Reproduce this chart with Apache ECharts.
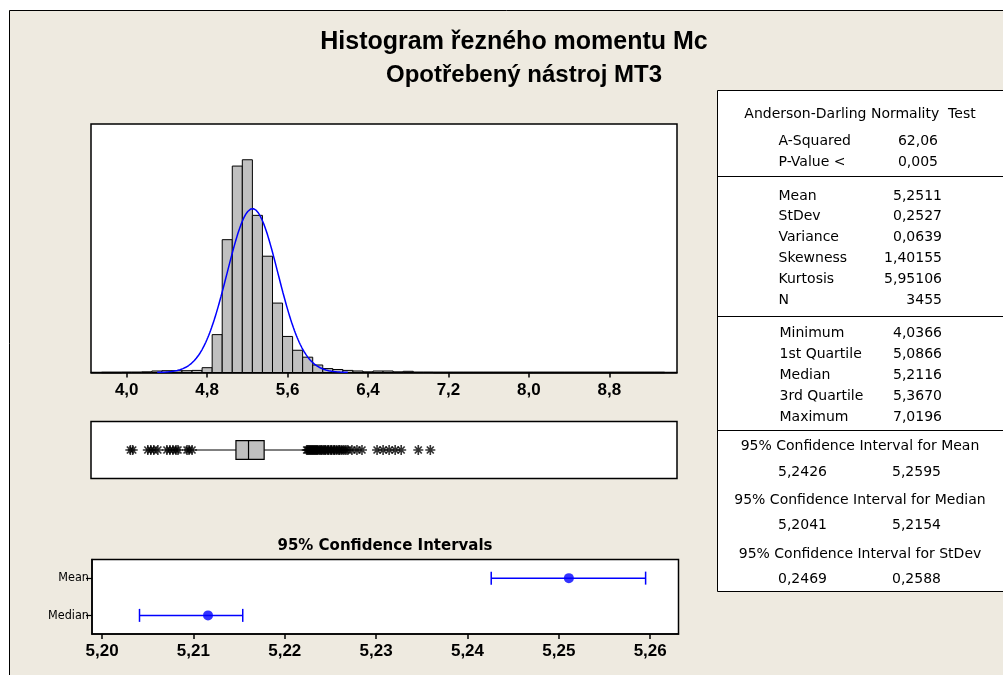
<!DOCTYPE html>
<html>
<head>
<meta charset="utf-8">
<script src="https://cdn.jsdelivr.net/npm/echarts@6/dist/echarts.min.js"></script>
<style>
  html, body { margin: 0; padding: 0; background: #fff; }
  #c { width: 1003px; height: 675px; }
</style>
</head>
<body>
<div id="c"></div>
<script>
// ---- Histogram of cutting torque Mc (bin width 0.1, bin midpoints) ----
const BIN_WIDTH = 0.1;
const binMids = [3.8, 3.9, 4.0, 4.1, 4.2, 4.3, 4.4, 4.5, 4.6, 4.7, 4.8, 4.9, 5.0, 5.1, 5.2, 5.3, 5.4, 5.5, 5.6, 5.7,
                 5.8, 5.9, 6.0, 6.1, 6.2, 6.3, 6.4, 6.5, 6.6, 6.7, 6.8, 6.9, 7.0, 7.1, 7.2, 7.3, 7.4, 7.5, 7.6, 7.7,
                 7.8, 7.9, 8.0, 8.1, 8.2, 8.3, 8.4, 8.5, 8.6, 8.7, 8.8, 8.9, 9.0, 9.1, 9.2, 9.3];
const binCounts = [0, 0, 1, 1, 2, 5, 6, 6, 6, 7, 16, 126, 442, 687, 708, 523, 387, 231, 120, 74,
                   51, 25, 13, 10, 7, 5, 2, 5, 5, 2, 4, 1, 1, 0, 0, 0, 0, 0, 0, 0,
                   0, 0, 0, 0, 0, 0, 0, 0, 0, 0, 0, 0, 0, 0, 0, 0];
const histTicks = [4.0, 4.8, 5.6, 6.4, 7.2, 8.0, 8.8];

// ---- Descriptive statistics ----
const N = 3455;
const MEAN = 5.2511;
const STDEV = 0.2527;
const VARIANCE = 0.0639;
const SKEWNESS = 1.40155;
const KURTOSIS = 5.95106;
const A_SQUARED = 62.06;
const MINIMUM = 4.0366;
const Q1 = 5.0866;
const MEDIAN = 5.2116;
const Q3 = 5.3670;
const MAXIMUM = 7.0196;
const meanCI = [5.2426, 5.2595];
const medianCI = [5.2041, 5.2154];
const stdevCI = [0.2469, 0.2588];

// ---- Boxplot: whisker ends and outliers ----
const whiskers = [4.68, 5.78];
const lowOutliers = [4.0366, 4.06, 4.21, 4.24, 4.27, 4.31, 4.40, 4.43, 4.46, 4.49, 4.51, 4.60, 4.62, 4.65];
const highOutliers = [5.79, 5.80, 5.81, 5.82, 5.83, 5.84, 5.85, 5.86, 5.87, 5.88, 5.89, 5.90, 5.915, 5.93,
                      5.94, 5.955, 5.97, 5.98, 6.00, 6.01, 6.03, 6.04, 6.06, 6.07, 6.09, 6.11, 6.12, 6.14,
                      6.16, 6.18, 6.20, 6.24, 6.29, 6.34, 6.49, 6.55, 6.61, 6.67, 6.73, 6.90, 7.0196];

// ---- Confidence interval panel ----
const ciCategories = ['Median', 'Mean'];
const ciTicks = [5.20, 5.21, 5.22, 5.23, 5.24, 5.25, 5.26];

const fmt = (v, d) => v.toFixed(d).replace('.', ',');

// fitted normal curve scaled to counts per bin
const normalCurve = [];
(function () {
  const lo = MEAN - 3.75 * STDEV, hi = MEAN + 3.75 * STDEV, steps = 200;
  for (let i = 0; i <= steps; i++) {
    const x = lo + (hi - lo) * i / steps;
    const z = (x - MEAN) / STDEV;
    const pdf = Math.exp(-0.5 * z * z) / (STDEV * Math.sqrt(2 * Math.PI));
    normalCurve.push([x, N * BIN_WIDTH * pdf]);
  }
})();

// asterisk marker for outliers
const STAR = 'path://M-0.8,-5L0.8,-5L0.8,5L-0.8,5Z M-5,-0.8L5,-0.8L5,0.8L-5,0.8Z ' +
  'M2.9,-4.1L4.1,-2.9L-2.9,4.1L-4.1,2.9Z M-4.1,-2.9L-2.9,-4.1L4.1,2.9L2.9,4.1Z';

const AXIS_FONT = '"Liberation Sans", Arial, sans-serif';
const TABLE_FONT = '"DejaVu Sans", Verdana, sans-serif';
const BLUE = '#0000FF';

const H_MIN = 3.645, H_MAX = 9.473;

// ---- statistics table (text + borders) ----
const T_LEFT = 717.5, LABEL_X = 778.5, VAL_R1 = 938, VAL_R = 942, PAIR_L = 778, PAIR_R = 892, T_CENTER = 860;
const tableGraphics = [];
function tText(text, x, y, align) {
  tableGraphics.push({
    type: 'text', x: x, y: y, z: 20,
    style: { text: text, font: '14px ' + TABLE_FONT, fill: '#000', align: align || 'left', verticalAlign: 'middle' }
  });
}
function tLine(y) {
  tableGraphics.push({ type: 'line', z: 20, shape: { x1: T_LEFT, y1: y, x2: 1010, y2: y }, style: { stroke: '#000', lineWidth: 1 } });
}
tableGraphics.push({ type: 'rect', z: 19, shape: { x: T_LEFT, y: 90.5, width: 400, height: 501 }, style: { fill: '#fff', stroke: '#000', lineWidth: 1 } });
tText('Anderson-Darling Normality  Test', T_CENTER, 114, 'center');
const sec1 = [['A-Squared', fmt(A_SQUARED, 2)], ['P-Value <', '0,005']];
sec1.forEach((r, i) => { tText(r[0], LABEL_X, 141.5 + i * 20.5); tText(r[1], VAL_R1, 141.5 + i * 20.5, 'right'); });
tLine(176.5);
const sec2 = [['Mean', fmt(MEAN, 4)], ['StDev', fmt(STDEV, 4)], ['Variance', fmt(VARIANCE, 4)],
              ['Skewness', fmt(SKEWNESS, 5)], ['Kurtosis', fmt(KURTOSIS, 5)], ['N', String(N)]];
sec2.forEach((r, i) => { tText(r[0], LABEL_X, 196 + i * 20.8); tText(r[1], VAL_R, 196 + i * 20.8, 'right'); });
tLine(316.5);
const sec3 = [['Minimum', fmt(MINIMUM, 4)], ['1st Quartile', fmt(Q1, 4)], ['Median', fmt(MEDIAN, 4)],
              ['3rd Quartile', fmt(Q3, 4)], ['Maximum', fmt(MAXIMUM, 4)]];
sec3.forEach((r, i) => { tText(r[0], LABEL_X + 1, 333.5 + i * 21); tText(r[1], VAL_R, 333.5 + i * 21, 'right'); });
tLine(430.5);
const sec4 = [['95% Confidence Interval for Mean', meanCI], ['95% Confidence Interval for Median', medianCI],
              ['95% Confidence Interval for StDev', stdevCI]];
sec4.forEach((r, i) => {
  const y0 = 446.5 + i * 53.7;
  tText(r[0], T_CENTER, y0, 'center');
  tText(fmt(r[1][0], 4), PAIR_L, y0 + 25.5);
  tText(fmt(r[1][1], 4), PAIR_R, y0 + 25.5);
});

const chart = echarts.init(document.getElementById('c'), null, { renderer: 'canvas' });

const option = {
  backgroundColor: '#EEEAE0',
  animation: false,
  grid: [
    { left: 91, top: 124, width: 586, height: 248.5, show: true, backgroundColor: '#fff', borderColor: '#000', borderWidth: 1.5 },
    { left: 91, top: 421.5, width: 586, height: 57, show: true, backgroundColor: '#fff', borderColor: '#000', borderWidth: 1.5 },
    { left: 92, top: 559.5, width: 586.5, height: 74.5, show: true, backgroundColor: '#fff', borderColor: '#000', borderWidth: 1.5 }
  ],
  xAxis: [
    {
      type: 'value', gridIndex: 0, min: H_MIN, max: H_MAX,
      splitLine: { show: false },
      axisLine: { show: true, onZero: false, lineStyle: { color: '#000', width: 1.5 } },
      axisTick: { show: true, customValues: histTicks, length: 5, lineStyle: { color: '#000', width: 1.5 } },
      axisLabel: {
        customValues: histTicks, formatter: v => fmt(v, 1), margin: 9,
        color: '#000', fontWeight: 'bold', fontSize: 17, fontFamily: AXIS_FONT
      }
    },
    { type: 'value', gridIndex: 1, min: H_MIN, max: H_MAX, show: false },
    {
      type: 'value', gridIndex: 2, min: 5.1989, max: 5.2631,
      splitLine: { show: false },
      axisLine: { show: true, onZero: false, lineStyle: { color: '#000', width: 1.5 } },
      axisTick: { show: true, customValues: ciTicks, length: 5, lineStyle: { color: '#000', width: 1.5 } },
      axisLabel: {
        customValues: ciTicks, formatter: v => fmt(v, 2), margin: 9,
        color: '#000', fontWeight: 'bold', fontSize: 17, fontFamily: AXIS_FONT
      }
    }
  ],
  yAxis: [
    { type: 'value', gridIndex: 0, min: 0, max: 827, show: false },
    { type: 'value', gridIndex: 1, min: 0, max: 1, show: false },
    {
      type: 'category', gridIndex: 2, data: ciCategories, boundaryGap: true,
      axisLine: { show: true, lineStyle: { color: '#000', width: 1.5 } },
      axisTick: { show: true, alignWithLabel: true, length: 6, lineStyle: { color: '#000', width: 1.2 } },
      axisLabel: { color: '#000', fontSize: 12.5, margin: 3, fontFamily: '"Liberation Sans Narrow", "DejaVu Sans Condensed", sans-serif' },
      splitLine: { show: false }
    }
  ],
  series: [
    {
      // histogram bars
      type: 'custom', xAxisIndex: 0, yAxisIndex: 0, z: 2,
      data: binMids.map((m, i) => [m - BIN_WIDTH / 2, m + BIN_WIDTH / 2, binCounts[i]]),
      encode: { x: [0, 1], y: 2 },
      renderItem: function (params, api) {
        const c = api.value(2);
        const p0 = api.coord([api.value(0), c]);
        const p1 = api.coord([api.value(1), 0]);
        if (c === 0) {
          return { type: 'line', shape: { x1: p0[0], y1: p1[1], x2: p1[0], y2: p1[1] }, style: { stroke: '#000', lineWidth: 1.5 } };
        }
        return {
          type: 'rect',
          shape: { x: p0[0], y: p0[1], width: p1[0] - p0[0], height: p1[1] - p0[1] },
          style: { fill: '#C0C0C0', stroke: '#000', lineWidth: 1 }
        };
      }
    },
    {
      // fitted normal curve
      type: 'line', xAxisIndex: 0, yAxisIndex: 0, z: 3,
      data: normalCurve, showSymbol: false, symbol: 'none',
      lineStyle: { color: BLUE, width: 1.5 }
    },
    {
      // boxplot
      type: 'custom', xAxisIndex: 1, yAxisIndex: 1, z: 2,
      data: [[whiskers[0], Q1, MEDIAN, Q3, whiskers[1]]],
      encode: { x: [0, 4] },
      renderItem: function (params, api) {
        const y = api.coord([Q1, 0.5])[1];
        const xs = [0, 1, 2, 3, 4].map(k => api.coord([api.value(k), 0.5])[0]);
        const h = 18.6;
        const st = { stroke: '#000', lineWidth: 1 };
        return {
          type: 'group', children: [
            { type: 'line', shape: { x1: xs[0], y1: y, x2: xs[1], y2: y }, style: st },
            { type: 'line', shape: { x1: xs[3], y1: y, x2: xs[4], y2: y }, style: st },
            { type: 'rect', shape: { x: xs[1], y: y - h / 2, width: xs[3] - xs[1], height: h }, style: { fill: '#C0C0C0', stroke: '#000', lineWidth: 1.2 } },
            { type: 'line', shape: { x1: xs[2], y1: y - h / 2, x2: xs[2], y2: y + h / 2 }, style: { stroke: '#000', lineWidth: 1.2 } }
          ]
        };
      }
    },
    {
      // outliers
      type: 'scatter', xAxisIndex: 1, yAxisIndex: 1, z: 4,
      data: lowOutliers.concat(highOutliers).map(v => [v, 0.5]),
      symbol: STAR, symbolSize: 10,
      itemStyle: { color: '#000' }
    },
    {
      // confidence interval bars
      type: 'custom', xAxisIndex: 2, yAxisIndex: 2, z: 3,
      data: [[medianCI[0], medianCI[1], 0], [meanCI[0], meanCI[1], 1]],
      encode: { x: [0, 1], y: 2 },
      renderItem: function (params, api) {
        const a = api.coord([api.value(0), api.value(2)]);
        const b = api.coord([api.value(1), api.value(2)]);
        const cap = 6.5;
        const st = { stroke: BLUE, lineWidth: 1.5 };
        return {
          type: 'group', children: [
            { type: 'line', shape: { x1: a[0], y1: a[1], x2: b[0], y2: b[1] }, style: st },
            { type: 'line', shape: { x1: a[0], y1: a[1] - cap, x2: a[0], y2: a[1] + cap }, style: st },
            { type: 'line', shape: { x1: b[0], y1: b[1] - cap, x2: b[0], y2: b[1] + cap }, style: st }
          ]
        };
      }
    },
    {
      // point estimates
      type: 'scatter', xAxisIndex: 2, yAxisIndex: 2, z: 4,
      data: [[MEDIAN, 0], [MEAN, 1]],
      symbol: 'circle', symbolSize: 10,
      itemStyle: { color: BLUE }
    }
  ],
  graphic: [
    // outer frame
    { type: 'rect', z: 1, shape: { x: 0, y: 0, width: 1003, height: 10 }, style: { fill: '#fff' } },
    { type: 'rect', z: 1, shape: { x: 0, y: 0, width: 9, height: 675 }, style: { fill: '#fff' } },
    { type: 'polyline', z: 2, shape: { points: [[9.5, 680], [9.5, 10.5], [1010, 10.5]] }, style: { stroke: '#000', lineWidth: 1, fill: null } },
    // titles
    { type: 'text', x: 514, y: 42, z: 5, style: { text: 'Histogram řezného momentu Mc', font: 'bold 25px ' + AXIS_FONT, fill: '#000', align: 'center', verticalAlign: 'middle' } },
    { type: 'text', x: 524, y: 75, z: 5, style: { text: 'Opotřebený nástroj MT3', font: 'bold 24px ' + AXIS_FONT, fill: '#000', align: 'center', verticalAlign: 'middle' } },
    { type: 'text', x: 385, y: 546, z: 5, style: { text: '95% Confidence Intervals', font: 'bold 15px "DejaVu Sans", sans-serif', fill: '#000', align: 'center', verticalAlign: 'middle' } }
  ].concat(tableGraphics)
};

chart.setOption(option);
</script>
</body>
</html>
